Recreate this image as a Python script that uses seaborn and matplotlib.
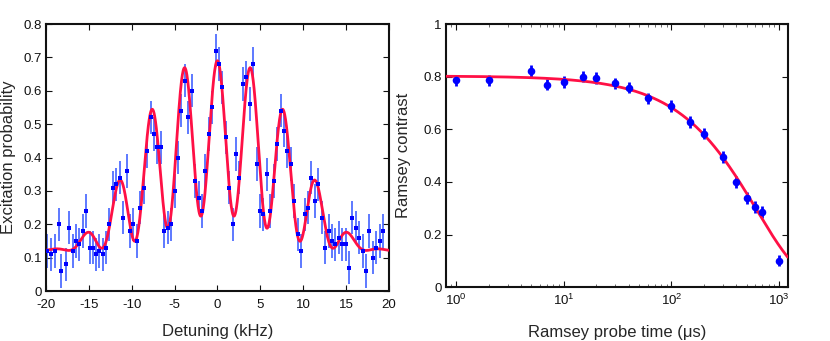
import numpy as np
import pandas as pd
import matplotlib
matplotlib.use("Agg")
import matplotlib.pyplot as plt
import seaborn as sns

# ---- Left panel: Ramsey fringes (detuning scan) ----
detuning = [-19.84, -19.42, -18.9, -18.5, -18.2, -17.7, -17.3, -16.9, -16.5, -16.1,
            -15.7, -15.3, -14.9, -14.5, -14.2, -13.8, -13.4, -13.0, -12.6, -12.2,
            -11.8, -11.4, -11.0, -10.6, -10.2, -9.8, -9.4, -9.0, -8.6, -8.2,
            -7.8, -7.4, -7.0, -6.6, -6.2, -5.8, -5.4, -5.0, -4.6, -4.2,
            -3.8, -3.4, -3.0, -2.6, -2.2, -1.8, -1.4, -1.0, -0.6, -0.2,
            0.16, 0.58, 0.97, 1.36, 1.79, 2.18, 2.57, 3.0, 3.39, 3.77,
            4.2, 4.6, 4.98, 5.37, 5.8, 6.19, 6.58, 6.97, 7.4, 7.78,
            8.17, 8.6, 8.99, 9.38, 9.8, 10.2, 10.58, 10.97, 11.4, 11.79,
            12.18, 12.57, 13.0, 13.39, 13.77, 14.16, 14.55, 14.98, 15.37, 15.76,
            16.15, 16.57, 16.96, 17.35, 17.74, 18.17, 18.56, 18.95, 19.38]
excitation = [0.12, 0.11, 0.12, 0.20, 0.06, 0.08, 0.19, 0.12, 0.15, 0.14,
              0.18, 0.24, 0.13, 0.13, 0.11, 0.12, 0.11, 0.13, 0.20, 0.31,
              0.32, 0.34, 0.22, 0.36, 0.18, 0.20, 0.15, 0.25, 0.31, 0.42,
              0.52, 0.47, 0.43, 0.43, 0.18, 0.19, 0.20, 0.30, 0.40, 0.54,
              0.63, 0.52, 0.60, 0.33, 0.28, 0.24, 0.36, 0.47, 0.55, 0.72,
              0.68, 0.61, 0.46, 0.31, 0.20, 0.41, 0.34, 0.62, 0.64, 0.56,
              0.68, 0.38, 0.24, 0.23, 0.35, 0.24, 0.33, 0.44, 0.54, 0.48,
              0.42, 0.38, 0.27, 0.17, 0.12, 0.23, 0.25, 0.34, 0.27, 0.32,
              0.22, 0.13, 0.18, 0.15, 0.14, 0.16, 0.14, 0.14, 0.07, 0.22,
              0.19, 0.16, 0.12, 0.06, 0.18, 0.10, 0.13, 0.15, 0.18]
excitation_err = 0.05

# fit parameters
fringe_offset = 0.12
fringe_upper = 0.57      # peak height above offset at zero detuning
fringe_lower = 0.11      # trough height above offset at zero detuning
fringe_period = 3.85     # kHz
env_width_upper = 11.5   # kHz
env_width_lower = 5.9    # kHz

# ---- Right panel: Ramsey contrast vs probe time ----
probe_time = [1, 2, 5, 7, 10, 15, 20, 30, 40, 60, 100, 150, 200, 300, 400, 500, 600, 700, 1000]
contrast = [0.786, 0.786, 0.823, 0.770, 0.781, 0.801, 0.796, 0.775, 0.759, 0.718,
            0.689, 0.628, 0.584, 0.496, 0.400, 0.338, 0.305, 0.286, 0.101]
contrast_err = 0.022
contrast_c0 = 0.803
contrast_tau = 615.0     # us

# ---- styling ----
sns.set_theme(style="white")
plt.rcParams["font.family"] = ["Liberation Sans", "DejaVu Sans"]
plt.rcParams["mathtext.fontset"] = "custom"
plt.rcParams["mathtext.rm"] = "Liberation Sans"

BLUE = "#0000ff"
EBLUE = "#3355ff"
RED = "#ff1045"

fig = plt.figure(figsize=(8.3, 3.41), dpi=100)
ax1 = fig.add_axes([0.0554, 0.1466, 0.413, 0.783])
ax2 = fig.add_axes([0.537, 0.158, 0.412, 0.771])

# left fit curve
d = np.linspace(-20, 20, 1200)
upper = fringe_upper * np.exp(-np.abs(d / env_width_upper) ** 3)
lower = fringe_lower * np.exp(-(d / env_width_lower) ** 2 / 2)
fit_l = fringe_offset + lower + (upper - lower) * (1 + np.cos(2 * np.pi * d / fringe_period)) / 2
df_fit_l = pd.DataFrame({"x": d, "y": fit_l})
df_l = pd.DataFrame({"x": detuning, "y": excitation})

ax1.errorbar(df_l["x"], df_l["y"], yerr=excitation_err, fmt="none",
             ecolor=EBLUE, elinewidth=1.3, alpha=0.85, zorder=2)
sns.lineplot(data=df_fit_l, x="x", y="y", ax=ax1, color=RED, lw=2, zorder=3)
sns.scatterplot(data=df_l, x="x", y="y", ax=ax1, color=BLUE, marker="s", s=7,
                edgecolor=BLUE, linewidth=0, zorder=4)
ax1.set_xlim(-20, 20)
ax1.set_ylim(0, 0.8)
ax1.set_xticks(np.arange(-20, 21, 5))
ax1.set_yticks(np.arange(0, 0.81, 0.1))
ax1.set_xticklabels([str(v) for v in range(-20, 21, 5)])
ax1.set_yticklabels(["0"] + [f"{v:.1f}" for v in np.arange(0.1, 0.81, 0.1)])
ax1.set_xlabel("Detuning (kHz)", fontsize=12, labelpad=9)
ax1.set_ylabel("Excitation probability", fontsize=12, labelpad=5)

# right fit curve
t = np.logspace(np.log10(0.8), np.log10(1200), 600)
df_fit_r = pd.DataFrame({"x": t, "y": contrast_c0 * np.exp(-t / contrast_tau)})
df_r = pd.DataFrame({"x": probe_time, "y": contrast})

ax2.errorbar(df_r["x"], df_r["y"], yerr=contrast_err, fmt="none",
             ecolor=BLUE, elinewidth=2, zorder=2)
sns.lineplot(data=df_fit_r, x="x", y="y", ax=ax2, color=RED, lw=2, zorder=3)
sns.scatterplot(data=df_r, x="x", y="y", ax=ax2, color=BLUE, marker="o", s=30,
                edgecolor=BLUE, linewidth=0, zorder=4)
ax2.set_xscale("log")
ax2.set_xlim(0.8, 1200)
ax2.set_ylim(0, 1)
ax2.set_yticks([0, 0.2, 0.4, 0.6, 0.8, 1.0])
ax2.set_yticklabels(["0", "0.2", "0.4", "0.6", "0.8", "1"])
ax2.set_xticks([1, 10, 100, 1000])
ax2.set_xticklabels([r"$10^{0}$", r"$10^{1}$", r"$10^{2}$", r"$10^{3}$"])
ax2.set_xlabel("Ramsey probe time (\u03bcs)", fontsize=12, labelpad=12)
ax2.set_ylabel("Ramsey contrast", fontsize=12, labelpad=9)

for ax in (ax1, ax2):
    for sp in ax.spines.values():
        sp.set_visible(True)
        sp.set_color("#111111")
        sp.set_linewidth(1.5)
    ax.tick_params(which="major", direction="in", length=4, width=0.8,
                   top=True, right=True, bottom=True, left=True,
                   labelsize=9.5, colors="#111111")
    ax.tick_params(which="minor", direction="in", length=2, width=0.6,
                   top=True, bottom=True, colors="#555555")
    ax.tick_params(axis="y", which="major", pad=3)
    ax.grid(False)
ax1.tick_params(axis="x", which="major", pad=6)
ax2.tick_params(axis="x", which="major", pad=4)

fig.savefig("out.png", dpi=100)
